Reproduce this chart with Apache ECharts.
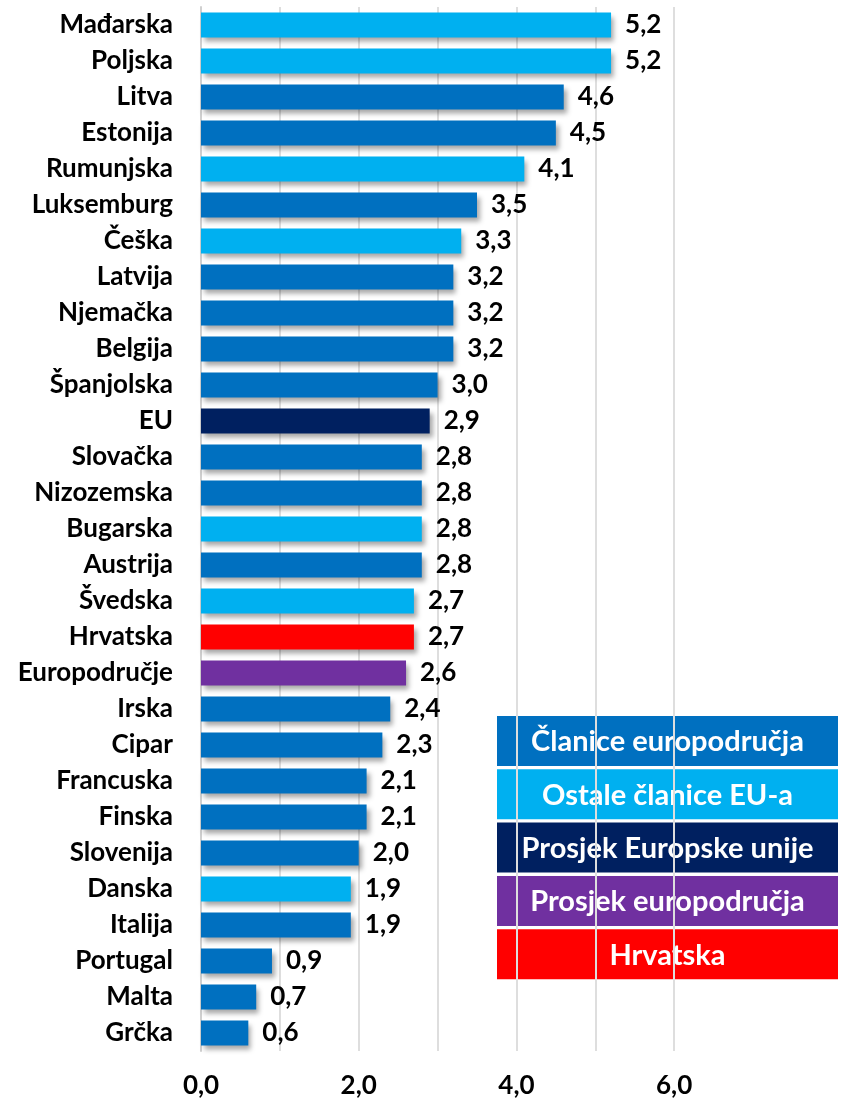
<!DOCTYPE html>
<html>
<head>
<meta charset="utf-8">
<script src="https://cdn.jsdelivr.net/npm/echarts@6/dist/echarts.min.js"></script>
<style>
  html, body { margin: 0; padding: 0; background: #fff; }
  #main { width: 841px; height: 1100px; }
</style>
</head>
<body>
<div id="main"></div>
<script>
// podaci s grafa
const categories = ['Mađarska', 'Poljska', 'Litva', 'Estonija', 'Rumunjska', 'Luksemburg', 'Češka',
  'Latvija', 'Njemačka', 'Belgija', 'Španjolska', 'EU', 'Slovačka', 'Nizozemska', 'Bugarska',
  'Austrija', 'Švedska', 'Hrvatska', 'Europodručje', 'Irska', 'Cipar', 'Francuska', 'Finska',
  'Slovenija', 'Danska', 'Italija', 'Portugal', 'Malta', 'Grčka'];
const values = [5.2, 5.2, 4.6, 4.5, 4.1, 3.5, 3.3, 3.2, 3.2, 3.2, 3.0, 2.9, 2.8, 2.8, 2.8,
  2.8, 2.7, 2.7, 2.6, 2.4, 2.3, 2.1, 2.1, 2.0, 1.9, 1.9, 0.9, 0.7, 0.6];
// skupina svake zemlje
const groups = ['ostale', 'ostale', 'ea', 'ea', 'ostale', 'ea', 'ostale', 'ea', 'ea', 'ea', 'ea',
  'eu', 'ea', 'ea', 'ostale', 'ea', 'ostale', 'hr', 'eaAvg', 'ea', 'ea', 'ea', 'ea', 'ea',
  'ostale', 'ea', 'ea', 'ea', 'ea'];
const legendKeys = ['ea', 'ostale', 'eu', 'eaAvg', 'hr'];
const legendNames = ['Članice europodručja', 'Ostale članice EU-a', 'Prosjek Europske unije',
  'Prosjek europodručja', 'Hrvatska'];

const colors = {
  ea: '#0070C0',
  ostale: '#00B0F0',
  eu: '#002060',
  eaAvg: '#7030A0',
  hr: '#FF0000'
};

const fmt = v => Number(v).toFixed(1).replace('.', ',');
const font = 'Lato, "Open Sans", sans-serif';

const chart = echarts.init(document.getElementById('main'));

// legenda kao obojani pravokutnici s bijelim tekstom
const legendGraphics = legendKeys.map((k, i) => ({
  type: 'group',
  left: 497,
  top: 716 + i * 53.3,
  children: [
    { type: 'rect', shape: { x: 0, y: 0, width: 341, height: 50 }, style: { fill: colors[k] } },
    {
      type: 'text', x: 170.5, y: 26,
      style: {
        text: legendNames[i], fill: '#fff', font: 'bold 29px ' + font,
        align: 'center', verticalAlign: 'middle'
      }
    }
  ]
}));

const option = {
  animation: false,
  backgroundColor: '#fff',
  grid: { left: 201, right: 88, top: 7, bottom: 49, containLabel: false },
  xAxis: {
    type: 'value',
    min: 0,
    max: 7,
    interval: 1,
    axisLine: { show: false },
    axisTick: { show: false },
    splitLine: { show: true, showMaxLine: false, lineStyle: { color: '#dedede', width: 2 } },
    axisLabel: {
      interval: 1,
      formatter: v => (v % 2 === 0 ? fmt(v) : ''),
      color: '#000', fontWeight: 'bold', fontSize: 26, fontFamily: font, margin: 22
    }
  },
  yAxis: {
    type: 'category',
    inverse: true,
    data: categories,
    axisLine: { show: true, lineStyle: { color: '#d0d0d0', width: 2 } },
    axisTick: { show: false },
    axisLabel: { color: '#000', fontWeight: 'bold', fontSize: 26, fontFamily: font, margin: 28 }
  },
  series: [{
    type: 'bar',
    barWidth: 25,
    data: values.map((v, i) => ({ value: v, itemStyle: { color: colors[groups[i]] } })),
    itemStyle: {
      shadowBlur: 5,
      shadowOffsetX: 3,
      shadowOffsetY: 4,
      shadowColor: 'rgba(0,0,0,0.35)'
    },
    label: {
      show: true,
      position: 'right',
      distance: 14,
      formatter: p => fmt(p.value),
      color: '#000', fontWeight: 'bold', fontSize: 26, fontFamily: font
    }
  }],
  graphic: legendGraphics
};

option && chart.setOption(option);
</script>
</body>
</html>
